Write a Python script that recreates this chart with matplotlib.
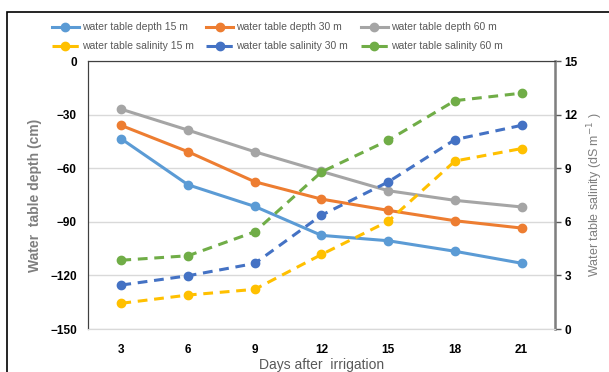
import matplotlib
matplotlib.use("Agg")
import matplotlib.pyplot as plt
from matplotlib.patches import Rectangle

days = [3, 6, 9, 12, 15, 18, 21]
depth_15 = [-43.6, -69.3, -81.4, -97.6, -100.6, -106.5, -113.2]
depth_30 = [-36.1, -50.8, -67.6, -77.3, -83.6, -89.4, -93.5]
depth_60 = [-27.0, -38.7, -50.8, -61.8, -72.6, -78.0, -81.7]
sal_15 = [1.44, 1.90, 2.22, 4.17, 6.03, 9.40, 10.10]
sal_30 = [2.46, 2.98, 3.67, 6.37, 8.23, 10.60, 11.40]
sal_60 = [3.85, 4.10, 5.44, 8.79, 10.56, 12.78, 13.20]
depth_ticks = [0, -30, -60, -90, -120, -150]
sal_ticks = [0, 3, 6, 9, 12, 15]

plt.rcParams['font.family'] = ['Liberation Sans', 'DejaVu Sans']

fig = plt.figure(figsize=(6.09, 3.72), dpi=100)
fig.patches.append(Rectangle((7/609, -0.1), 1.2, 1 - 12/372 + 0.1,
                             transform=fig.transFigure, fill=False,
                             edgecolor='black', linewidth=1.2))
ax = fig.add_axes([88/609, 1 - 329/372, (555-88)/609, (329-61)/372])
ax2 = ax.twinx()

x = list(range(len(days)))
lw = 2.2
ms = 6
h1, = ax.plot(x, depth_15, color='#5B9BD5', lw=lw, marker='o', ms=ms, label='water table depth 15 m')
h2, = ax.plot(x, depth_30, color='#ED7D31', lw=lw, marker='o', ms=ms, label='water table depth 30 m')
h3, = ax.plot(x, depth_60, color='#A5A5A5', lw=lw, marker='o', ms=ms, label='water table depth 60 m')
dash = (3.2, 2.2)
h4, = ax2.plot(x, sal_15, color='#FFC000', lw=lw, marker='o', ms=ms, dashes=dash, label='water table salinity 15 m')
h5, = ax2.plot(x, sal_30, color='#4472C4', lw=lw, marker='o', ms=ms, dashes=dash, label='water table salinity 30 m')
h6, = ax2.plot(x, sal_60, color='#70AD47', lw=lw, marker='o', ms=ms, dashes=dash, label='water table salinity 60 m')

ax.set_xlim(-0.5, len(days) - 0.5)
ax.set_ylim(-150, 0)
ax2.set_ylim(0, 15)
ax.set_yticks(depth_ticks)
ax2.set_yticks(sal_ticks)
ax.set_xticks(x)
ax.set_xticklabels([str(d) for d in days])
ax.grid(axis='y', color='#D9D9D9', lw=1)
ax.set_axisbelow(True)

for lab in ax.get_xticklabels() + ax.get_yticklabels() + ax2.get_yticklabels():
    lab.set_fontweight('bold')
    lab.set_fontsize(8.5)
ax.tick_params(axis='x', length=0, pad=11)
ax.tick_params(axis='y', length=0, pad=8)
ax2.tick_params(axis='y', length=4, width=1, color='#595959', pad=3)

for a in (ax, ax2):
    a.spines['bottom'].set_color('#D9D9D9')
    a.spines['top'].set_color('#404040')
    a.spines['left'].set_color('#404040')
    a.spines['right'].set_color('#7F7F7F')
ax2.spines['right'].set_linewidth(1.8)

ax.set_ylabel('Water  table depth (cm)', color='#7F7F7F', fontsize=10, fontweight='bold', labelpad=6)
ax2.set_ylabel('Water table salinity (dS m$^{-1}$ )', color='#7F7F7F', fontsize=9, labelpad=5)
ax.set_xlabel('Days after  irrigation', color='#595959', fontsize=10, labelpad=1)

handles = [h1, h4, h2, h5, h3, h6]
fig.legend(handles=handles, loc='upper center', ncol=3, bbox_to_anchor=(0.455, 0.965),
           frameon=False, fontsize=7.5, handlelength=2.6, columnspacing=1.2,
           handletextpad=0.3, labelspacing=0.85, labelcolor='#595959')

fig.savefig('out.png', dpi=100)
